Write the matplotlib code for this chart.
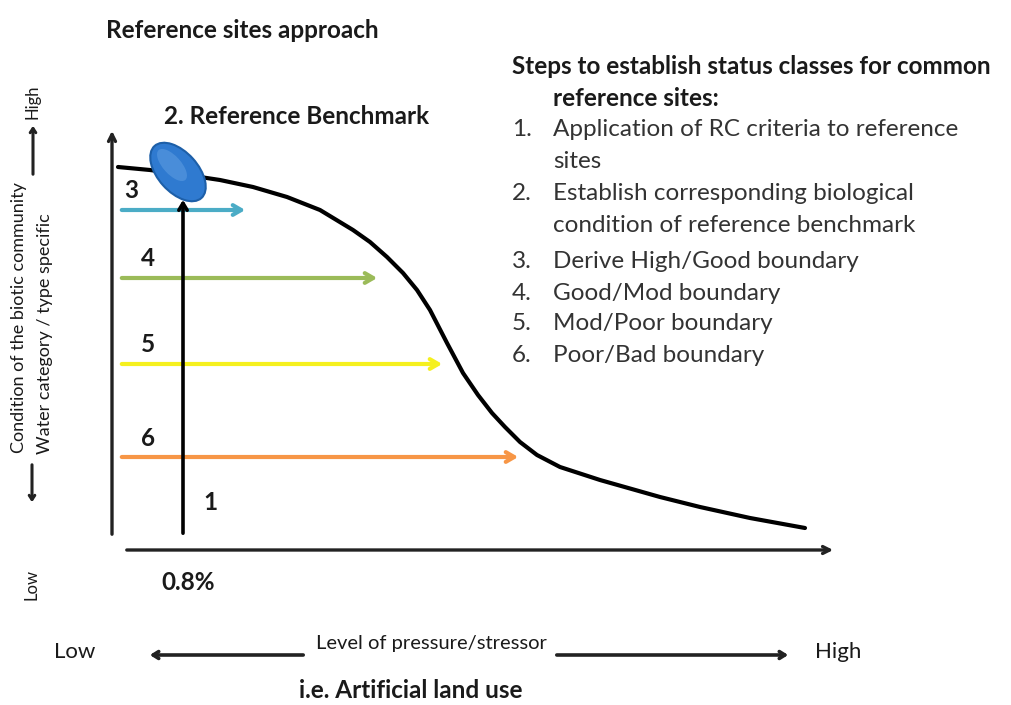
import matplotlib.pyplot as plt
from matplotlib.patches import Ellipse

plt.rcParams['font.family'] = ['Lato', 'DejaVu Sans']

# response curve (pressure -> condition), in drawing units
curve_x = [118, 150, 180, 220, 253, 287, 320, 353, 370, 387, 403, 417, 430,
           447, 463, 478, 492, 505, 520, 537, 560, 600, 660, 700, 750, 805]
curve_y = [167, 170, 174, 180, 187, 197, 210, 230, 242, 257, 273, 290, 310,
           343, 373, 395, 413, 427, 442, 455, 467, 480, 497, 507, 518, 528]

# boundary arrows
bound_labels = ['3', '4', '5', '6']
bound_y = [210, 278, 364, 457]
bound_end = [248, 380, 445, 521]
bound_colors = ['#4BACC6', '#9BBB59', '#F5F01E', '#F79646']

steps = [
    ('1.', 'Application of RC criteria to reference'),
    ('', 'sites'),
    ('2.', 'Establish corresponding biological'),
    ('', 'condition of reference benchmark'),
    ('3.', 'Derive High/Good boundary'),
    ('4.', 'Good/Mod boundary'),
    ('5.', 'Mod/Poor boundary'),
    ('6.', 'Poor/Bad boundary'),
]
step_y = [130, 161, 193, 225, 262, 293, 324, 356]

fig = plt.figure(figsize=(10.11, 7.05), dpi=100)
ax = fig.add_axes([0, 0, 1, 1])
ax.set_xlim(0, 1011)
ax.set_ylim(705, 0)
ax.axis('off')

txt = '#1a1a1a'
big = 17.5
ax.text(106, 30, 'Reference sites approach', fontsize=big, fontweight='bold',
        color=txt, va='center')

# axes arrows
ax.annotate('', xy=(112, 128), xytext=(112, 537),
            arrowprops=dict(arrowstyle='->,head_length=0.5,head_width=0.25', lw=2.4, color='#222'))
ax.annotate('', xy=(836, 550), xytext=(124, 550),
            arrowprops=dict(arrowstyle='->,head_length=0.5,head_width=0.25', lw=2.4, color='#222'))

# curve
ax.plot(curve_x, curve_y, color='black', lw=3, solid_capstyle='round',
        solid_joinstyle='round', zorder=3)

# boundary arrows
for lab, y, xe, c in zip(bound_labels, bound_y, bound_end, bound_colors):
    ax.annotate('', xy=(xe, y), xytext=(119, y),
                arrowprops=dict(arrowstyle='->,head_length=0.6,head_width=0.35', lw=3, color=c),
                zorder=2)
    lx = 131 if lab == '3' else 148
    ax.text(lx, y - 19, lab, fontsize=big, fontweight='bold', color=txt,
            ha='center', va='center')

# reference benchmark ellipse
ax.add_patch(Ellipse((178, 172), 70, 40, angle=48, facecolor='#2F7AD0',
                     edgecolor='#1D5FA8', lw=1.5, zorder=5))
ax.add_patch(Ellipse((172, 165), 40, 18, angle=48, facecolor='#5B9BE0',
                     edgecolor='none', alpha=0.6, zorder=5))

# step 1 arrow
ax.annotate('', xy=(183, 197), xytext=(183, 536),
            arrowprops=dict(arrowstyle='->,head_length=0.5,head_width=0.3', lw=2.6, color='black'),
            zorder=6)
ax.text(210, 502, '1', fontsize=big, fontweight='bold', color=txt, ha='center', va='center')

ax.text(297, 116, '2. Reference Benchmark', fontsize=big, fontweight='bold',
        color=txt, ha='center', va='center')
ax.text(188, 582, '0.8%', fontsize=big, fontweight='bold', color=txt,
        ha='center', va='center')

# y label
ax.text(19, 318, 'Condition of the biotic community', fontsize=13, rotation=90,
        color=txt, ha='center', va='center')
ax.text(45, 334, 'Water category / type specific', fontsize=13, rotation=90,
        color=txt, ha='center', va='center')
ax.text(33, 102, 'High', fontsize=12, rotation=90, color=txt, ha='center', va='center')
ax.annotate('', xy=(33, 123), xytext=(33, 177),
            arrowprops=dict(arrowstyle='->,head_length=0.3,head_width=0.2', lw=2.2, color='#222'))
ax.text(32, 585, 'Low', fontsize=12, rotation=90, color=txt, ha='center', va='center')
ax.annotate('', xy=(32, 505), xytext=(32, 462),
            arrowprops=dict(arrowstyle='->,head_length=0.3,head_width=0.2', lw=2.2, color='#222'))

# x label
ax.text(75, 652, 'Low', fontsize=16, color=txt, ha='center', va='center')
ax.text(838, 652, 'High', fontsize=16, color=txt, ha='center', va='center')
ax.text(431, 643, 'Level of pressure/stressor', fontsize=14.5, color=txt,
        ha='center', va='center')
ax.annotate('', xy=(147, 655), xytext=(306, 655),
            arrowprops=dict(arrowstyle='->,head_length=0.4,head_width=0.25', lw=2.6, color='#222'))
ax.annotate('', xy=(791, 655), xytext=(554, 655),
            arrowprops=dict(arrowstyle='->,head_length=0.4,head_width=0.25', lw=2.6, color='#222'))
ax.text(411, 690, 'i.e. Artificial land use', fontsize=big, fontweight='bold',
        color=txt, ha='center', va='center')

# steps list
ax.text(512, 66, 'Steps to establish status classes for common', fontsize=big,
        fontweight='bold', color=txt, va='center')
ax.text(553, 99, 'reference sites:', fontsize=big, fontweight='bold', color=txt, va='center')
for (num, s), y in zip(steps, step_y):
    if num:
        ax.text(512, y, num, fontsize=17.5, color='#333', va='center')
    ax.text(553, y, s, fontsize=17.5, color='#333', va='center')

fig.savefig('out.png', dpi=100)
